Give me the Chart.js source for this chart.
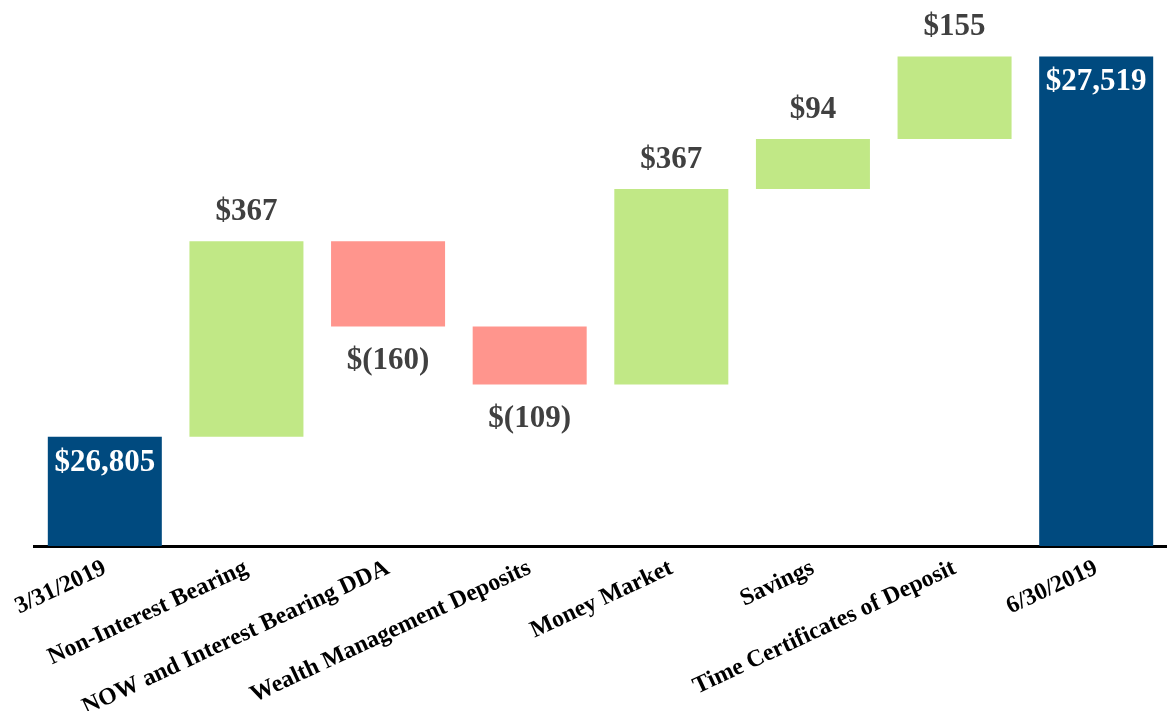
<!DOCTYPE html>
<html>
<head>
<meta charset="utf-8">
<script src="https://cdn.jsdelivr.net/npm/chart.js@4/dist/chart.umd.min.js"></script>
<style>
  html, body { margin: 0; padding: 0; background: #fff; }
  #wrap { width: 1167px; height: 711px; position: relative; }
</style>
</head>
<body>
<div id="wrap"><canvas id="grafico"></canvas></div>
<script>
const categorias = ['3/31/2019', 'Non-Interest Bearing', 'NOW and Interest Bearing DDA',
  'Wealth Management Deposits', 'Money Market', 'Savings', 'Time Certificates of Deposit', '6/30/2019'];
const saldoInicial = 26805;
const cambios = [367, -160, -109, 367, 94, 155];
const saldoFinal = 27519;
const etiquetas = ['$26,805', '$367', '$(160)', '$(109)', '$367', '$94', '$155', '$27,519'];

const AZUL = '#004a7f';
const VERDE = '#c1e886';
const ROJO = '#ff958d';
const SERIF = '"Liberation Serif", "Times New Roman", serif';

// waterfall: floating bars from running total
let acumulado = saldoInicial;
const datos = [saldoInicial];
const colores = [AZUL];
cambios.forEach((c) => {
  datos.push([acumulado, acumulado + c]);
  colores.push(c >= 0 ? VERDE : ROJO);
  acumulado += c;
});
datos.push(saldoFinal);
colores.push(AZUL);

const etiquetasPlugin = {
  id: 'etiquetas',
  afterDatasetsDraw(chart) {
    const { ctx } = chart;
    const meta = chart.getDatasetMeta(0);
    ctx.save();
    ctx.font = `bold 31px ${SERIF}`;
    ctx.textAlign = 'center';
    ctx.textBaseline = 'alphabetic';
    meta.data.forEach((bar, i) => {
      const top = Math.min(bar.y, bar.base);
      const bottom = Math.max(bar.y, bar.base);
      if (i === 0 || i === meta.data.length - 1) {
        ctx.fillStyle = '#ffffff';
        ctx.fillText(etiquetas[i], bar.x, top + 34);
      } else if (cambios[i - 1] >= 0) {
        ctx.fillStyle = '#404040';
        ctx.fillText(etiquetas[i], bar.x, top - 21);
      } else {
        ctx.fillStyle = '#404040';
        ctx.fillText(etiquetas[i], bar.x, bottom + 42);
      }
    });
    ctx.restore();
  }
};

new Chart(document.querySelector('#grafico'), {
  type: 'bar',
  data: {
    labels: categorias,
    datasets: [{
      data: datos,
      backgroundColor: colores,
      borderWidth: 0,
      barPercentage: 0.805,
      categoryPercentage: 1
    }]
  },
  options: {
    responsive: true,
    maintainAspectRatio: false,
    animation: false,
    layout: { padding: { left: 34, right: 0, top: 0, bottom: 0 } },
    plugins: {
      legend: { display: false },
      tooltip: { enabled: false }
    },
    scales: {
      x: {
        afterFit(scale) { scale.height = 165; },
        grid: { display: false, drawTicks: false },
        border: { display: true, color: '#000000', width: 3 },
        ticks: {
          autoSkip: false,
          minRotation: 25,
          maxRotation: 25,
          padding: 8,
          color: '#000000',
          font: { family: SERIF, size: 24, weight: 'bold' }
        }
      },
      y: {
        display: false,
        min: 26600,
        max: 27625
      }
    }
  },
  plugins: [etiquetasPlugin]
});
</script>
</body>
</html>
